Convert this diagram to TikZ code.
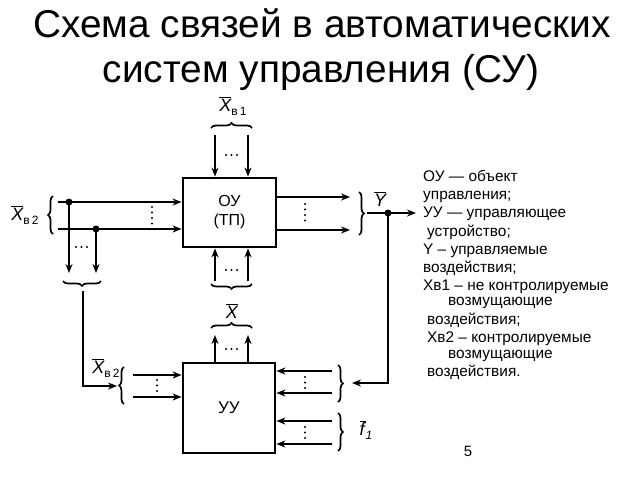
\documentclass[tikz,border=0pt]{standalone}
\usepackage{fontspec}
\setmainfont{Liberation Sans}
\usetikzlibrary{arrows.meta,decorations.pathreplacing}
\newcommand{\ovl}[1]{$\overline{\hbox{\itshape #1}}$}
\newcommand{\lsub}[1]{\raisebox{-4pt}{\fontsize{12}{12}\selectfont #1}}
\begin{document}
\begin{tikzpicture}[x=1pt,y=-1pt,
 arr/.style={line width=2.2pt,-{Stealth[length=9pt,width=7pt]}},
 box/.style={draw,line width=2.8pt,inner sep=0pt},
 junc/.style={circle,fill,inner sep=0pt,minimum size=7pt},
 dotsh/.style={line width=2.2pt,line cap=round,dash pattern=on 0pt off 5.5pt},
 brc/.style={decorate,decoration={brace,amplitude=5pt},line width=1.7pt},
 lab/.style={inner sep=0pt,font=\fontsize{18}{18}\selectfont},
 leg/.style={anchor=base west,inner sep=0pt,font=\fontsize{15.4}{15.4}\selectfont},
 ttl/.style={anchor=base,inner sep=0pt,font=\fontsize{38.8}{38.8}\selectfont},
]
\useasboundingbox (0,0) rectangle (640,480);

% title
\node[ttl] (title1) at (322,37) {Схема связей в автоматических};
\node[ttl] (title2) at (321,82) {систем управления (СУ)};

% blocks
\node[box,minimum width=93pt,minimum height=69pt,align=center,font=\fontsize{16}{19}\selectfont] (ou) at (229.5,212.5) {ОУ\\(ТП)};
\node[box,minimum width=92pt,minimum height=90pt,font=\fontsize{17}{17}\selectfont] (uu) at (229,408) {УУ};

% top inputs of OU
\coordinate (t1) at (215,135);
\coordinate (t2) at (248,135);
\draw[arr] (t1) -- (t1 |- ou.north);
\draw[arr] (t2) -- (t2 |- ou.north);
\draw[dotsh] (226,155) -- (238,155);
\draw[brc] (211,128) -- (252,128);
\node[lab] (xb1) at (233,106) {\ovl{X}\lsub{в\,1}};

% left inputs of OU
\coordinate (l1) at (58,202);
\coordinate (l2) at (58,229);
\draw[arr] (l1) -- (l1 -| ou.west);
\draw[arr] (l2) -- (l2 -| ou.west);
\draw[dotsh] (152,207) -- (152,224);
\node[junc] (j1) at (69,202) {};
\node[junc] (j2) at (96,229) {};
\coordinate (d1) at (69,273);
\coordinate (d2) at (96,273);
\draw[arr] (j1.center) -- (d1);
\draw[arr] (j2.center) -- (d2);
\draw[dotsh] (76,247) -- (88,247);
\draw[brc] (53,234) -- (53,196);
\node[lab] (xb2a) at (25,215) {\ovl{X}\lsub{в\,2}};
\draw[brc] (101,281) -- (63,281);

% feed to UU left
\coordinate (f0) at (83,291);
\coordinate (f1) at (83,386);
\coordinate (f2) at (117,386);
\draw[arr] (f0) -- (f1) -- (f2);
\node[lab] (xb2b) at (106,368) {\ovl{X}\lsub{в\,2}};
\draw[brc] (124,404) -- (124,367);
\coordinate (u1) at (133,375);
\coordinate (u2) at (133,397);
\draw[arr] (u1) -- (u1 -| uu.west);
\draw[arr] (u2) -- (u2 -| uu.west);
\draw[dotsh] (157,380) -- (157,392);

% outputs of OU
\coordinate (o1) at (350,197);
\coordinate (o2) at (350,230);
\draw[arr] (o1 -| ou.east) -- (o1);
\draw[arr] (o2 -| ou.east) -- (o2);
\draw[dotsh] (305,204) -- (305,222);
\draw[brc] (359,192) -- (359,235);
\node[lab] (ybar) at (380,199) {\ovl{Y}};
\coordinate (ys) at (367,213);
\coordinate (ye) at (416,213);
\draw[arr] (ys) -- (ye);
\node[junc] (jy) at (388,213) {};
\coordinate (fb) at (388,383);
\coordinate (fbe) at (352,383);
\draw[arr] (jy.center) -- (fb) -- (fbe);

% right inputs of UU
\coordinate (r1) at (332,371);
\coordinate (r2) at (332,393);
\coordinate (r3) at (332,421);
\coordinate (r4) at (332,444);
\draw[arr] (r1) -- (r1 -| uu.east);
\draw[arr] (r2) -- (r2 -| uu.east);
\draw[arr] (r3) -- (r3 -| uu.east);
\draw[arr] (r4) -- (r4 -| uu.east);
\draw[dotsh] (305,377) -- (305,388);
\draw[dotsh] (305,427) -- (305,438);
\draw[brc] (338,365) -- (338,402);
\draw[brc] (338,413) -- (338,451);
\node[lab] (fbar) at (366,430) {$\overline{\hbox{\itshape f\kern1pt}}$\lsub{\itshape 1}};

% between OU bottom and UU top
\coordinate (b1) at (215,281);
\coordinate (b2) at (248,281);
\draw[arr] (b1) -- (b1 |- ou.south);
\draw[arr] (b2) -- (b2 |- ou.south);
\draw[dotsh] (226,270) -- (238,270);
\draw[brc] (252,284) -- (211,284);
\node[lab] (xbar) at (232,311) {\ovl{X}};
\draw[brc] (211,328) -- (252,328);
\coordinate (c1) at (215,335);
\coordinate (c2) at (248,335);
\draw[arr] (c1 |- uu.north) -- (c1);
\draw[arr] (c2 |- uu.north) -- (c2);
\draw[dotsh] (226,349) -- (238,349);

% legend
\node[leg] (lg1) at (423,181) {ОУ — объект};
\node[leg] (lg2) at (423,199) {управления;};
\node[leg] (lg3) at (423,217) {УУ — управляющее};
\node[leg] (lg4) at (427,236) {устройство;};
\node[leg] (lg5) at (423,254) {Y – управляемые};
\node[leg] (lg6) at (423,272) {воздействия;};
\node[leg] (lg7) at (423,290) {Хв1 – не контролируемые};
\node[leg] (lg8) at (448,305) {возмущающие};
\node[leg] (lg9) at (427,324) {воздействия;};
\node[leg] (lg10) at (427,342) {Хв2 – контролируемые};
\node[leg] (lg11) at (448,358) {возмущающие};
\node[leg] (lg12) at (427,376) {воздействия.};

\node[inner sep=0pt,font=\fontsize{15}{15}\selectfont] (pnum) at (468,451) {5};
\end{tikzpicture}
\end{document}
